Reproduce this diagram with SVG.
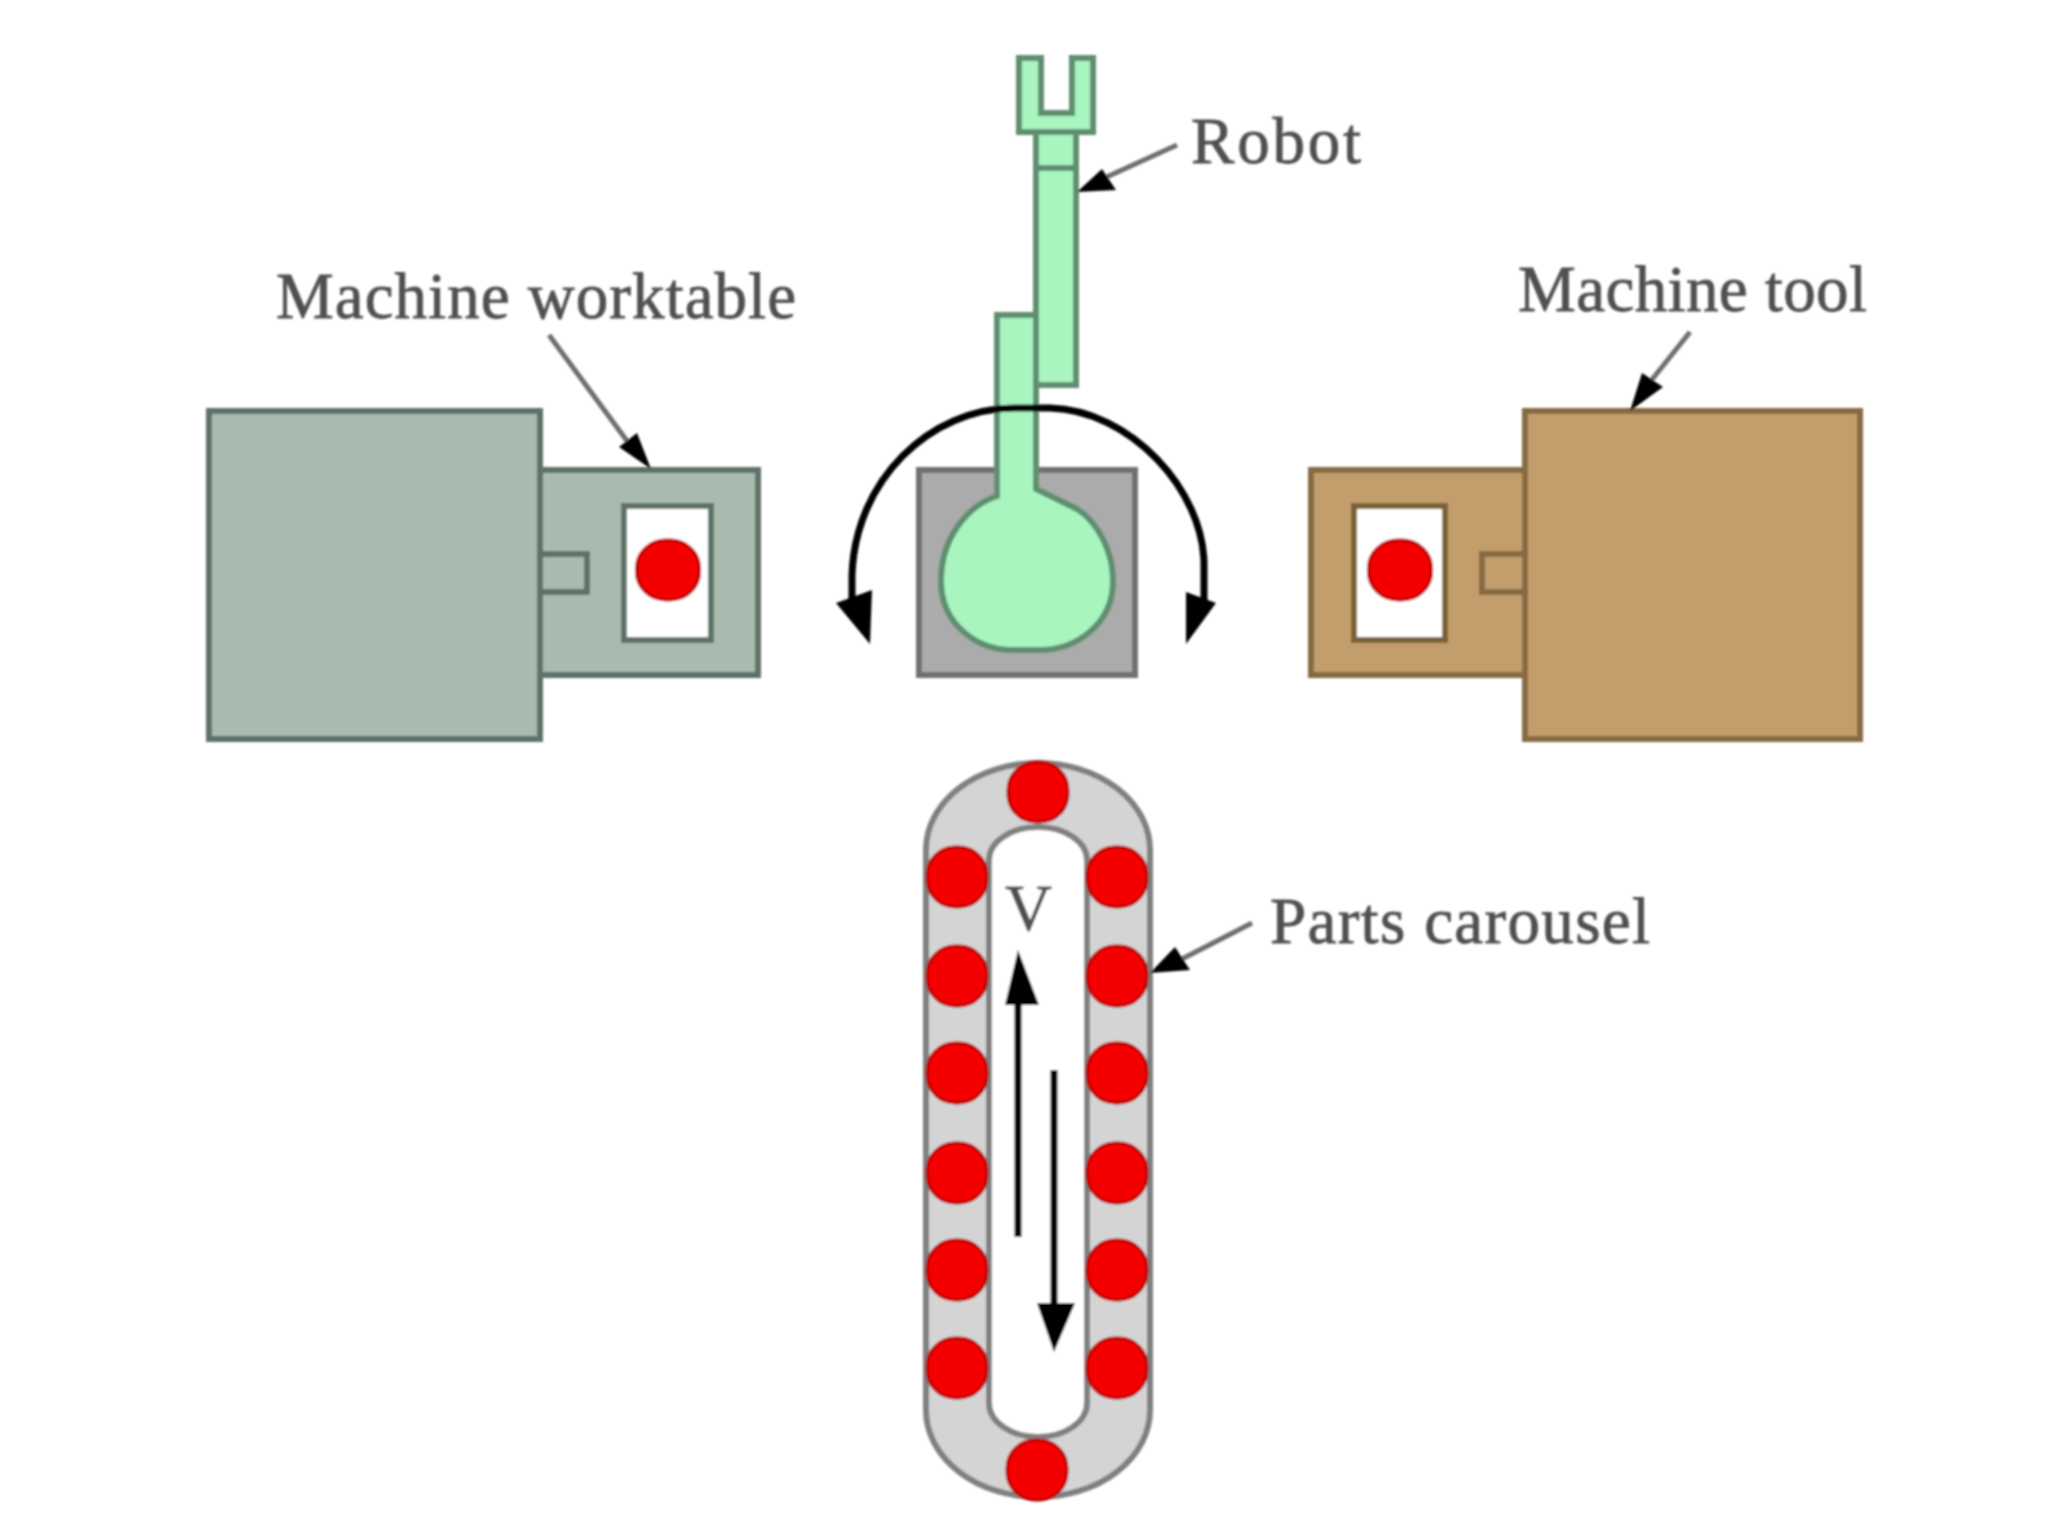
<svg xmlns="http://www.w3.org/2000/svg" width="2048" height="1536" viewBox="0 0 2048 1536">
<defs>
<filter id="soft" x="-2%" y="-2%" width="104%" height="104%"><feGaussianBlur stdDeviation="1"/></filter>
<rect id="p" x="-30" y="-30" width="60" height="60" rx="28" ry="28" fill="#f40000" stroke="#b80000" stroke-width="3"/>
</defs>
<style>
.lab{font-family:"Liberation Serif","Times New Roman",serif;font-size:65px;fill:#505050;stroke:#505050;stroke-width:.8}
.wt{fill:#a8bbae;stroke:#5f7268;stroke-width:6}
.mt{fill:#c49d6c;stroke:#866a42;stroke-width:6}
.hold{fill:#fff}
.rb{fill:#a8f5bf;stroke:#5e8e70;stroke-width:6;stroke-linejoin:miter}
.lead{fill:none;stroke:#6e6e6e;stroke-width:5}
.heavy{fill:none;stroke:#000;stroke-width:7}
.head{fill:#000;stroke:none}
</style>
<rect width="2048" height="1536" fill="#fff"/>
<g filter="url(#soft)">
<g id="machine-worktable">
<rect class="wt" x="540" y="470" width="218" height="205"/>
<rect class="hold" x="624" y="506" width="87" height="134" stroke="#5f7268" stroke-width="6"/>
<use href="#p" transform="translate(668 570) scale(1.05 1)"/>
<path class="wt" d="M540 554H587V592H540"/>
<rect class="wt" x="209" y="411" width="331" height="328"/>
</g>
<g id="machine-tool">
<rect class="mt" x="1311" y="470" width="214" height="205"/>
<rect class="hold" x="1354" y="506" width="91" height="134" stroke="#7a6238" stroke-width="6"/>
<use href="#p" transform="translate(1400 570) scale(1.05 1)"/>
<path class="mt" d="M1525 554H1482V592H1525"/>
<rect class="mt" x="1525" y="411" width="335" height="328"/>
</g>
<g id="robot">
<rect x="919" y="470" width="216" height="205" fill="#ababab" stroke="#6f6f6f" stroke-width="6"/>
<path class="rb" d="M997 315H1036V489L1077 509C1098 522 1113 552 1113 581C1113 625 1075 650 1040 650H1012C978 650 941 625 941 581C941 535 970 505 997 496Z"/>
<rect class="rb" x="1036" y="132" width="40" height="253"/>
<path class="rb" d="M1036 168H1076" fill="none"/>
<path class="rb" d="M1019 58H1041V113H1072V58H1093V132H1019Z"/>
</g>
<g id="parts-carousel">
<path d="M926 850A112 87 0 0 1 1150 850V1410A112 87 0 0 1 926 1410Z" fill="#d4d4d4" stroke="#808080" stroke-width="6"/>
<path d="M989 860A49 33 0 0 1 1087 860V1403A49 34 0 0 1 989 1403Z" fill="#fff" stroke="#808080" stroke-width="6"/>
<use href="#p" x="1038" y="792"/>
<use href="#p" x="957" y="877"/><use href="#p" x="1117" y="877"/>
<use href="#p" x="957" y="976"/><use href="#p" x="1117" y="976"/>
<use href="#p" x="957" y="1073"/><use href="#p" x="1117" y="1073"/>
<use href="#p" x="957" y="1173"/><use href="#p" x="1117" y="1173"/>
<use href="#p" x="957" y="1270"/><use href="#p" x="1117" y="1270"/>
<use href="#p" x="957" y="1368"/><use href="#p" x="1117" y="1368"/>
<use href="#p" x="1037" y="1470"/>
</g>
<g id="connectors">
<path class="heavy" d="M852 606V575C855 480 930 408 1015 408H1050C1130 410 1204 490 1204 565V606"/>
<polygon class="head" points="836,603 872,590 870,644"/>
<polygon class="head" points="1186,592 1216,603 1186,644"/>
<path class="lead" d="M1177 145L1100 180"/>
<polygon class="head" points="1077,192 1102,169 1116,190"/>
<path class="lead" d="M549 335L630 445"/>
<polygon class="head" points="651,469 619,447 637,433"/>
<path class="lead" d="M1690 332L1650 382"/>
<polygon class="head" points="1630,411 1642,373 1663,387"/>
<path class="lead" d="M1252 923L1180 960"/>
<polygon class="head" points="1150,973 1175,947 1190,970"/>
<path class="heavy" d="M1018 1237V1000"/>
<polygon class="head" points="1018,950 1039,1005 1005,1005"/>
<path class="heavy" d="M1054 1070V1310"/>
<polygon class="head" points="1054,1352 1037,1303 1075,1303"/>
</g>
<g id="labels">
<text class="lab" x="1191" y="163" textLength="170" lengthAdjust="spacing">Robot</text>
<text class="lab" x="276" y="318" textLength="520" lengthAdjust="spacing">Machine worktable</text>
<text class="lab" x="1518" y="311" textLength="349" lengthAdjust="spacing">Machine tool</text>
<text class="lab" x="1270" y="943" textLength="380" lengthAdjust="spacing">Parts carousel</text>
<text class="lab" x="1005" y="930" textLength="47" lengthAdjust="spacingAndGlyphs">V</text>
</g>
</g>
</svg>
